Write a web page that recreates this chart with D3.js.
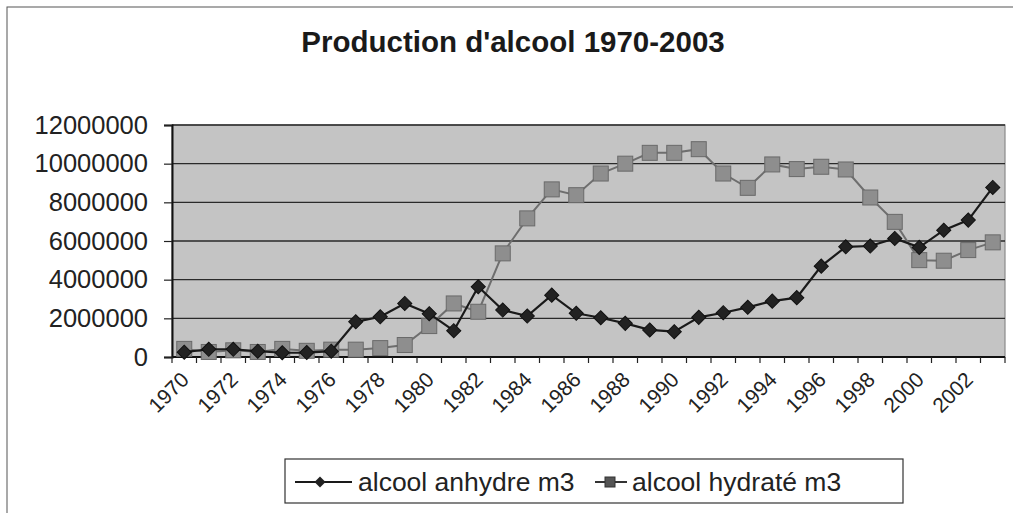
<!DOCTYPE html>
<html>
<head>
<meta charset="utf-8">
<script src="https://cdn.jsdelivr.net/npm/d3@7"></script>
<style>
  html, body { margin: 0; padding: 0; background: #fff; }
  svg { display: block; font-family: "Liberation Sans", Arial, sans-serif; }
</style>
</head>
<body>
<svg id="chart" width="1013" height="513"></svg>
<script>
const years = d3.range(1970, 2004).map(String);
const tickLabels = years.filter((y, i) => i % 2 === 0);
const yTicks = [0, 2000000, 4000000, 6000000, 8000000, 10000000, 12000000];
const anhydre = [250000, 400000, 400000, 300000, 220000, 230000, 300000, 1820000, 2080000, 2770000,
                 2240000, 1360000, 3630000, 2430000, 2120000, 3200000, 2260000, 2030000, 1740000, 1400000,
                 1310000, 2050000, 2290000, 2570000, 2890000, 3070000, 4700000, 5700000, 5740000, 6130000,
                 5670000, 6560000, 7080000, 8770000];
const hydrate = [420000, 260000, 345000, 260000, 420000, 320000, 380000, 380000, 460000, 620000,
                 1600000, 2770000, 2340000, 5360000, 7170000, 8670000, 8370000, 9490000, 10000000, 10560000,
                 10560000, 10750000, 9490000, 8750000, 9960000, 9720000, 9840000, 9700000, 8250000, 6990000,
                 5010000, 4980000, 5530000, 5930000];
const seriesNames = ["alcool anhydre m3", "alcool hydraté m3"];
const title = "Production d'alcool 1970-2003";

const svg = d3.select("#chart");
const L = 172, R = 1005, T = 125, B = 357;

// outer frame
svg.append("rect").attr("x", 7).attr("y", 7).attr("width", 1020).attr("height", 520)
  .attr("fill", "#fff").attr("stroke", "#555").attr("stroke-width", 1);

svg.append("text").attr("x", 513).attr("y", 52).attr("text-anchor", "middle")
  .attr("font-size", 29.5).attr("font-weight", "bold").attr("fill", "#1a1a1a").text(title);

const x = d3.scaleBand().domain(years).range([L, R]).padding(0);
const y = d3.scaleLinear().domain([0, 12000000]).range([B, T]);

svg.append("rect").attr("x", L).attr("y", T).attr("width", R - L).attr("height", B - T)
  .attr("fill", "#c4c4c4").attr("stroke", "#8a8a8a").attr("stroke-width", 1.2);

// gridlines
svg.append("g").selectAll("line").data(yTicks.filter(d => d > 0)).join("line")
  .attr("x1", L).attr("x2", R).attr("y1", d => y(d)).attr("y2", d => y(d))
  .attr("stroke", "#2a2a2a").attr("stroke-width", 1.4);

// y axis
const yAxis = svg.append("g").attr("transform", `translate(${L},0)`)
  .call(d3.axisLeft(y).tickValues(yTicks).tickFormat(d3.format("d")).tickSize(8).tickPadding(16));
yAxis.select(".domain").attr("stroke", "#111").attr("stroke-width", 2);
yAxis.selectAll(".tick line").attr("stroke", "#222").attr("stroke-width", 1.2);
yAxis.selectAll("text").attr("font-size", 25.5).attr("fill", "#222")
  .attr("font-family", "Liberation Sans, Arial, sans-serif");

// x axis: ticks between categories
const xAxisG = svg.append("g");
xAxisG.append("line").attr("x1", L).attr("x2", R).attr("y1", B).attr("y2", B)
  .attr("stroke", "#111").attr("stroke-width", 2);
xAxisG.selectAll("line.tk").data(years.concat(["end"])).join("line").attr("class", "tk")
  .attr("x1", (d, i) => i < years.length ? x(d) : x(years[years.length - 1]) + x.bandwidth())
  .attr("x2", (d, i) => i < years.length ? x(d) : x(years[years.length - 1]) + x.bandwidth())
  .attr("y1", B).attr("y2", B + 6).attr("stroke", "#222").attr("stroke-width", 1.2);
xAxisG.selectAll("text").data(tickLabels).join("text")
  .attr("transform", d => `translate(${x(d) + x.bandwidth() / 2 + 6},${B + 24}) rotate(-45)`)
  .attr("text-anchor", "end").attr("font-size", 21).attr("fill", "#222").text(d => d);

const cx = d => x(d) + x.bandwidth() / 2;
const line = d3.line().x(d => cx(d.year)).y(d => y(d.v));
const hData = years.map((yr, i) => ({ year: yr, v: hydrate[i] }));
const aData = years.map((yr, i) => ({ year: yr, v: anhydre[i] }));

// hydraté
svg.append("path").datum(hData).attr("d", line).attr("fill", "none")
  .attr("stroke", "#6e6e6e").attr("stroke-width", 2);
svg.append("g").selectAll("rect").data(hData).join("rect")
  .attr("x", d => cx(d.year) - 7.5).attr("y", d => y(d.v) - 7.5).attr("width", 15).attr("height", 15)
  .attr("fill", "#8e8e8e").attr("stroke", "#6a6a6a").attr("stroke-width", 1);

// anhydre
svg.append("path").datum(aData).attr("d", line).attr("fill", "none")
  .attr("stroke", "#1a1a1a").attr("stroke-width", 2.2);
svg.append("g").selectAll("path").data(aData).join("path")
  .attr("transform", d => `translate(${cx(d.year)},${y(d.v)}) rotate(45)`)
  .attr("d", d3.symbol().type(d3.symbolSquare).size(100))
  .attr("fill", "#222").attr("stroke", "#111").attr("stroke-width", 1);

// legend
const lg = svg.append("g");
lg.append("rect").attr("x", 285).attr("y", 459).attr("width", 618).attr("height", 44)
  .attr("fill", "#fff").attr("stroke", "#333").attr("stroke-width", 1.2);
const ly = 482;
lg.append("line").attr("x1", 295).attr("x2", 352).attr("y1", ly).attr("y2", ly)
  .attr("stroke", "#1a1a1a").attr("stroke-width", 2);
lg.append("path").attr("transform", `translate(320,${ly}) rotate(45)`)
  .attr("d", d3.symbol().type(d3.symbolSquare).size(60)).attr("fill", "#222");
lg.append("text").attr("x", 358).attr("y", ly + 9).attr("font-size", 26.5).attr("fill", "#222")
  .text(seriesNames[0]);
lg.append("line").attr("x1", 595).attr("x2", 627).attr("y1", ly).attr("y2", ly)
  .attr("stroke", "#333").attr("stroke-width", 2);
lg.append("rect").attr("x", 605).attr("y", ly - 5).attr("width", 10).attr("height", 10)
  .attr("fill", "#555").attr("stroke", "#333");
lg.append("text").attr("x", 632).attr("y", ly + 9).attr("font-size", 26.5).attr("fill", "#222")
  .text(seriesNames[1]);
</script>
</body>
</html>
